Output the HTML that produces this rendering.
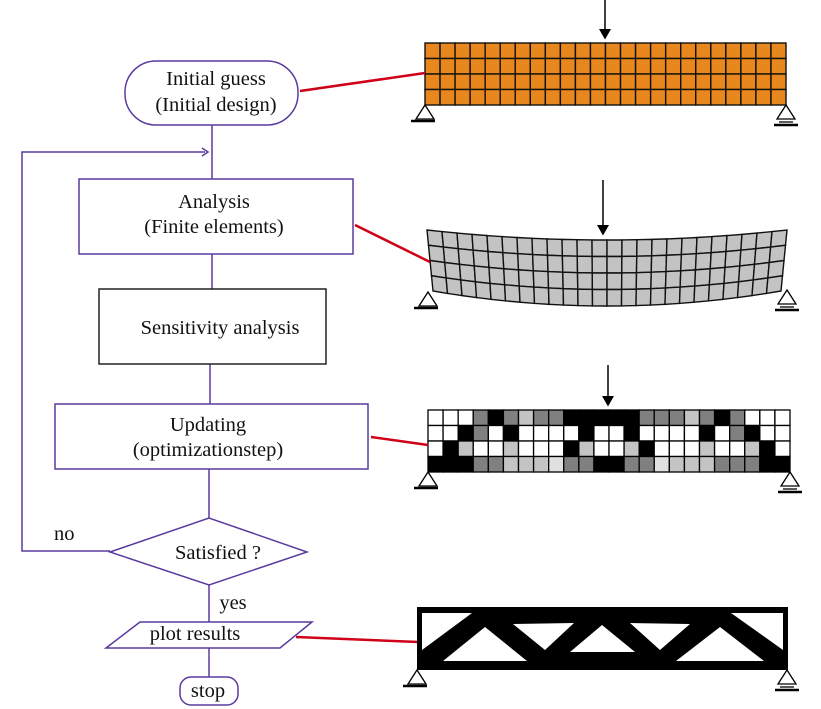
<!DOCTYPE html>
<html><head><meta charset="utf-8"><style>
html,body{margin:0;padding:0;background:#fff;}
svg{display:block;}
text{font-family:"Liberation Serif",serif;font-size:20.5px;fill:#111;}
</style></head><body>
<svg id="s" width="821" height="709" viewBox="0 0 821 709" xmlns="http://www.w3.org/2000/svg">
<defs><marker id="ah" markerWidth="8" markerHeight="8" refX="6" refY="4" orient="auto"><path d="M0,0 L7,4 L0,8 Z" fill="#000"/></marker></defs>
<g id="grids"></g>
<g stroke="#5a3a9e" stroke-width="1.5" fill="none">
<rect x="125" y="61" width="173" height="64" rx="31"/>
<line x1="212" y1="125" x2="212" y2="179"/>
<polyline points="205,152 22,152 22,551 110,551"/>
<path d="M202,148 L208,152 L202,156" />
<rect x="79" y="179" width="274" height="75"/>
<line x1="212" y1="254" x2="212" y2="289"/>
<line x1="210" y1="364" x2="210" y2="404"/>
<rect x="55" y="404" width="313" height="65"/>
<line x1="209" y1="469" x2="209" y2="518"/>
<polygon points="110,552 209,518 307,552 209,585"/>
<line x1="209" y1="585" x2="209" y2="622"/>
<polygon points="140,622 312,622 280,648 106,648"/>
<line x1="209" y1="648" x2="209" y2="677"/>
<rect x="180" y="677" width="58" height="28" rx="11"/>
</g>
<rect x="99" y="289" width="227" height="75" fill="none" stroke="#222" stroke-width="1.5"/>
<g text-anchor="middle">
<text x="216" y="85">Initial guess</text>
<text x="216" y="111">(Initial design)</text>
<text x="214" y="208">Analysis</text>
<text x="214" y="233">(Finite elements)</text>
<text x="220" y="334">Sensitivity analysis</text>
<text x="208" y="431">Updating</text>
<text x="208" y="456">(optimizationstep)</text>
<text x="218" y="559">Satisfied ?</text>
<text x="233" y="609">yes</text>
<text x="195" y="640">plot results</text>
<text x="208" y="697">stop</text>
</g>
<text x="54" y="540">no</text>
<g stroke="#d00018" stroke-width="2.5" fill="none">
<line x1="300" y1="91" x2="425" y2="73"/>
<line x1="355" y1="225" x2="430" y2="262"/>
<line x1="371" y1="437" x2="428" y2="445"/>
<line x1="296" y1="637" x2="418" y2="642"/>
</g>
<g stroke="#000" stroke-width="1.5">
<line x1="605" y1="0" x2="605" y2="38" marker-end="url(#ah)"/>
<line x1="603" y1="180" x2="603" y2="234" marker-end="url(#ah)"/>
<line x1="608" y1="365" x2="608" y2="405" marker-end="url(#ah)"/>
</g>
<rect x="417" y="607" width="371" height="63" fill="#000"/>
<g fill="#fff">
<polygon points="422,613 472,613 422,650"/>
<polygon points="443,661 485,627 527,661"/>
<polygon points="513,624 574,623 545,650"/>
<polygon points="570,652 602,625 635,652"/>
<polygon points="630,623 690,624 660,650"/>
<polygon points="676,661 720,627 764,661"/>
<polygon points="731,613 783,613 783,650"/>
</g>
<g id="supports" stroke="#000" stroke-width="1.3" fill="none"></g>
</svg>
<script>
var NS="http://www.w3.org/2000/svg",g=document.getElementById("grids"),sp=document.getElementById("supports");
function el(t,a,p){var e=document.createElementNS(NS,t);for(var k in a)e.setAttribute(k,a[k]);(p||g).appendChild(e);return e;}
var x0=425,x1=786,y0=43,y1=105,cw=(x1-x0)/24,rh=(y1-y0)/4;
for(var r=0;r<4;r++)for(var c=0;c<24;c++)el("rect",{x:x0+c*cw,y:y0+r*rh,width:cw,height:rh,fill:"#e8871e",stroke:"#111","stroke-width":1.4});
function P(u,v){var x=430+u*(784-430);var t=(u-0.5)*2;var top=230+10*(1-t*t),bot=291+15*(1-t*t);var xs=x+(v-0.5)*(-t)*6;return [xs,top+v*(bot-top)];}
for(var r=0;r<4;r++)for(var c=0;c<24;c++){var a=P(c/24,r/4),b=P((c+1)/24,r/4),d=P((c+1)/24,(r+1)/4),e=P(c/24,(r+1)/4);
el("polygon",{points:[a,b,d,e].map(function(p){return p.join(",")}).join(" "),fill:"#c3c3c3",stroke:"#111","stroke-width":1.4});}
var rows=["WWWdBdlddBBBBBdddldBdWWW","WWBdWBWWWWBWWBWWWWBWdBWW","WBlWWlWWWBlWWlBWWWlWWlBW","BBBddlllvddBBddvllldddBBB"];
var col={W:"#fff",B:"#000",d:"#808080",l:"#c4c4c4",v:"#e0e0e0"};
x0=428;x1=790;y0=410;y1=472;cw=(x1-x0)/24;rh=(y1-y0)/4;
for(var r=0;r<4;r++)for(var c=0;c<24;c++){var ch=rows[r][c];el("rect",{x:x0+c*cw,y:y0+r*rh,width:cw,height:rh,fill:col[ch],stroke:"#000","stroke-width":1.3});}
function sup(x,y,roller){el("polygon",{points:x+","+y+" "+(x-9)+","+(y+14)+" "+(x+9)+","+(y+14)},sp);
if(roller){el("line",{x1:x-7,y1:y+17,x2:x+7,y2:y+17},sp);el("line",{x1:x-12,y1:y+20,x2:x+12,y2:y+20,"stroke-width":2.5},sp);}
else el("line",{x1:x-14,y1:y+16,x2:x+10,y2:y+16,"stroke-width":2.5},sp);}
sup(425,105,0);sup(786,105,1);sup(428,292,0);sup(787,290,1);sup(428,472,0);sup(790,472,1);sup(417,670,0);sup(787,670,1);
</script>
</body></html>
